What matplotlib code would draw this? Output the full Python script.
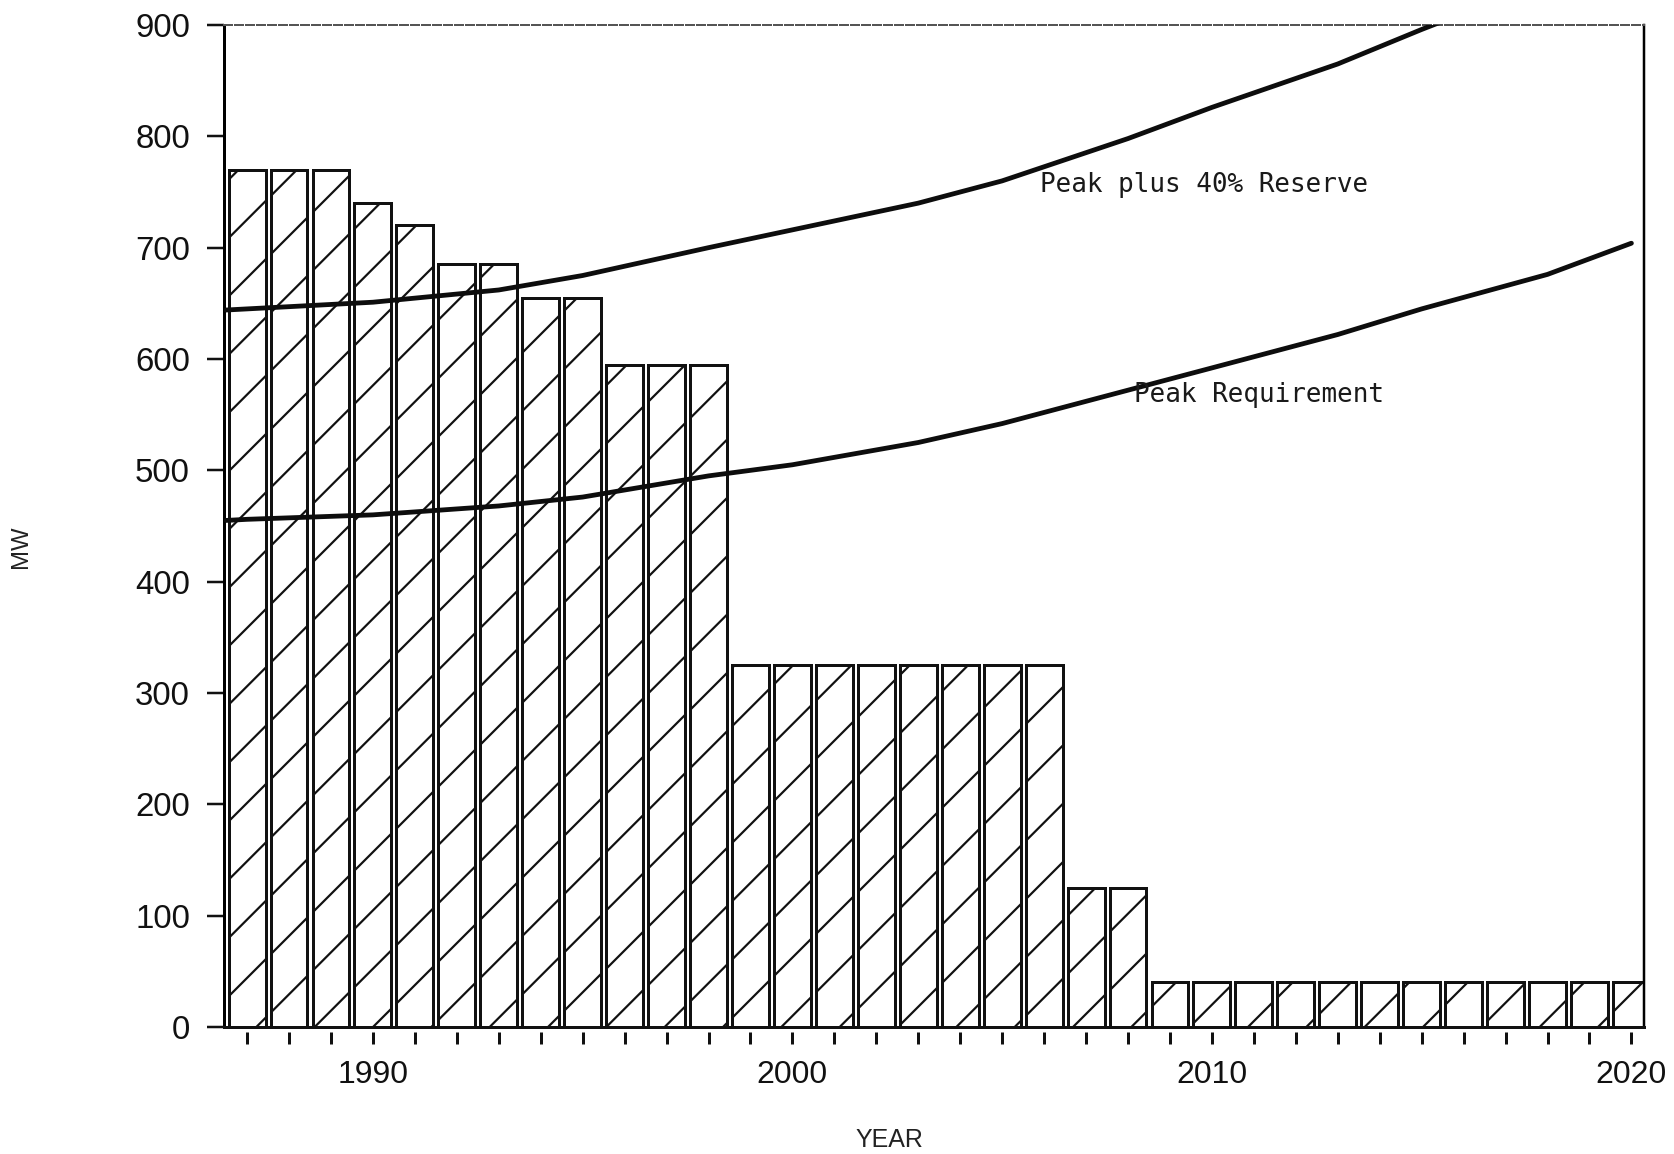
import matplotlib
matplotlib.use("Agg")
import matplotlib.pyplot as plt

# render at a high dpi so the "//" hatch comes out as sparse as a printed chart
DPI = 350
W, H = 1674, 1154


def pt(px):
    # pixel size -> points at the figure dpi
    return px * 72.0 / DPI


years = list(range(1987, 2021))
capacity_mw = [770, 770, 770, 740, 720, 685, 685, 655, 655, 595, 595, 595,
               325, 325, 325, 325, 325, 325, 325, 325,
               125, 125,
               40, 40, 40, 40, 40, 40, 40, 40, 40, 40, 40, 40]

curve_years = [1986.5, 1987, 1990, 1993, 1995, 1998, 2000, 2003, 2005,
               2008, 2010, 2013, 2015, 2018, 2020]
peak_mw = [455, 456, 460, 468, 476, 495, 505, 525, 542, 572, 592, 622, 645, 676, 704]
reserve_mw = [644, 645, 651, 662, 675, 700, 716, 740, 760, 798, 826, 865, 896, 940, 980]

y_ticks = [0, 100, 200, 300, 400, 500, 600, 700, 800, 900]
x_labels = {1990: "1990", 2000: "2000", 2010: "2010", 2020: "2020"}

plt.rcParams["font.family"] = ["Liberation Sans", "DejaVu Sans"]
plt.rcParams["hatch.linewidth"] = pt(2.2)
plt.rcParams["hatch.color"] = "#1a1a1a"

fig = plt.figure(figsize=(W / DPI, H / DPI), dpi=DPI, facecolor="white")
left, right = 224, 1644
top, zero = 25, 1027
ax = fig.add_axes([left / W, 1 - zero / H, (right - left) / W, (zero - top) / H])

ax.bar(years, capacity_mw, width=0.88, facecolor="white", edgecolor="#111111",
       linewidth=pt(3), hatch="//", zorder=2)

ax.plot(curve_years, peak_mw, color="#0d0d0d", lw=pt(4.8), zorder=3,
        solid_capstyle="round")
ax.plot(curve_years, reserve_mw, color="#0d0d0d", lw=pt(4.8), zorder=3,
        solid_capstyle="round")

ax.text(2005.9, 756, "Peak plus 40% Reserve", family="DejaVu Sans Mono",
        fontsize=pt(26), color="#1a1a1a", va="center", ha="left")
ax.text(2008.15, 568, "Peak Requirement", family="DejaVu Sans Mono",
        fontsize=pt(26), color="#1a1a1a", va="center", ha="left")

ax.set_xlim(1986.45, 2020.3)
ax.set_ylim(0, 900)

# frame: solid left/right, faint dashed top, baseline at zero
ax.spines["left"].set_linewidth(pt(3))
ax.spines["right"].set_linewidth(pt(2.5))
ax.spines["top"].set_linewidth(pt(2))
ax.spines["top"].set_linestyle((0, (4, 1.5)))
ax.spines["top"].set_color("#555555")
ax.spines["bottom"].set_position(("outward", pt(5)))
ax.spines["bottom"].set_visible(False)
ax.axhline(0, color="#111111", lw=pt(3), clip_on=False, zorder=4)

ax.set_yticks(y_ticks)
ax.set_yticklabels([str(v) for v in y_ticks])
ax.set_xticks(years)
ax.set_xticklabels([x_labels.get(y, "") for y in years])

ax.tick_params(axis="y", direction="out", length=pt(17), width=pt(2.5),
               pad=pt(17), labelsize=pt(33), colors="#111111")
ax.tick_params(axis="x", direction="out", length=pt(12), width=pt(3),
               pad=pt(16), labelsize=pt(32), colors="#111111")

fig.text(21 / W, 1 - 547 / H, "MW", rotation=90, ha="center", va="center",
         fontsize=pt(24), color="#222222")
fig.text(889 / W, 1 - 1140 / H, "YEAR", ha="center", va="center",
         fontsize=pt(25), color="#222222")

fig.savefig("out.png", dpi=DPI, facecolor="white")
plt.close(fig)
